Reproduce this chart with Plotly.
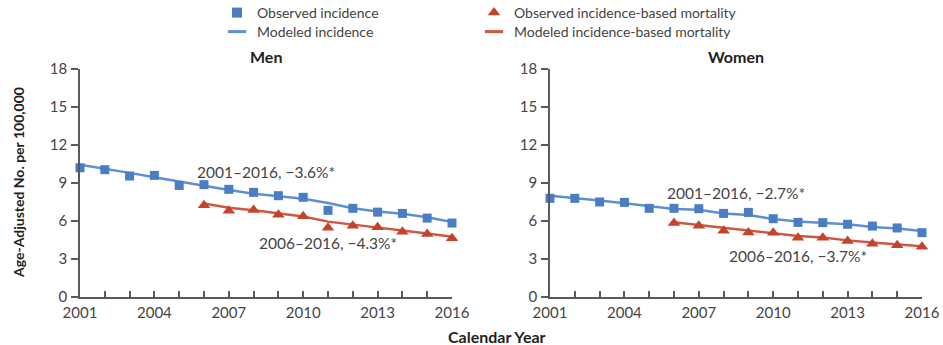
import plotly.graph_objects as go

years = list(range(2001, 2017))
mort_years = list(range(2006, 2017))

# Men
men_obs_inc = [10.2, 10.05, 9.55, 9.6, 8.8, 8.87, 8.5, 8.26, 8.0, 7.87, 6.84, 7.0, 6.7, 6.6, 6.23, 5.84]
men_mod_inc = [10.45, 10.15, 9.8, 9.45, 9.1, 8.78, 8.45, 8.15, 7.95, 7.75, 7.42, 7.0, 6.75, 6.58, 6.3, 5.92]
men_obs_mort = [7.25, 6.8, 6.87, 6.5, 6.37, 5.47, 5.63, 5.5, 5.16, 4.97, 4.63]
men_mod_mort = [7.38, 7.05, 6.85, 6.6, 6.35, 5.95, 5.72, 5.52, 5.27, 5.02, 4.75]

# Women
wom_obs_inc = [7.79, 7.79, 7.5, 7.47, 7.0, 7.0, 6.97, 6.6, 6.68, 6.18, 5.89, 5.87, 5.74, 5.6, 5.45, 5.08]
wom_mod_inc = [8.0, 7.82, 7.62, 7.4, 7.18, 6.95, 6.88, 6.6, 6.48, 6.15, 5.97, 5.87, 5.75, 5.52, 5.4, 5.2]
wom_obs_mort = [5.84, 5.63, 5.24, 5.1, 5.08, 4.68, 4.68, 4.42, 4.21, 4.08, 3.97]
wom_mod_mort = [5.9, 5.68, 5.45, 5.22, 5.05, 4.82, 4.7, 4.47, 4.3, 4.15, 4.0]

trend_labels = {
    "men": ["2001\u20132016, \u22123.6%*", "2006\u20132016, \u22124.3%*"],
    "women": ["2001\u20132016, \u22122.7%*", "2006\u20132016, \u22123.7%*"],
}

BLUE = "#4a7dc2"
BLUE_LINE = "#5d8fd3"
RED = "#c4442b"
RED_LINE = "#d05740"
TXT = "#444444"
AX = "#5a5a5a"
FONT = "Lato"

fig = go.Figure()

panels = [
    ("x", "y", men_obs_inc, men_mod_inc, men_obs_mort, men_mod_mort),
    ("x2", "y2", wom_obs_inc, wom_mod_inc, wom_obs_mort, wom_mod_mort),
]
for xa, ya, oi, mi, om, mm in panels:
    fig.add_trace(go.Scatter(x=years, y=mi, mode="lines", xaxis=xa, yaxis=ya,
                             line=dict(color=BLUE_LINE, width=2.5), showlegend=False, cliponaxis=False))
    fig.add_trace(go.Scatter(x=mort_years, y=mm, mode="lines", xaxis=xa, yaxis=ya,
                             line=dict(color=RED_LINE, width=2.5), showlegend=False, cliponaxis=False))
    fig.add_trace(go.Scatter(x=years, y=oi, mode="markers", xaxis=xa, yaxis=ya,
                             marker=dict(symbol="square", size=9, color=BLUE), showlegend=False, cliponaxis=False))
    fig.add_trace(go.Scatter(x=mort_years, y=om, mode="markers", xaxis=xa, yaxis=ya,
                             marker=dict(symbol="triangle-up", size=11, color=RED), showlegend=False, cliponaxis=False))

W, H = 943, 345

# Legend entries, one legend box per entry in a 2 x 2 arrangement
legend_entries = [
    ("Observed incidence", dict(symbol="square", size=10, color=BLUE), "legend", 217, 13),
    ("Modeled incidence", dict(symbol="line-ew", size=13, line=dict(color=BLUE_LINE, width=3)), "legend2", 217, 32),
    ("Observed incidence-based mortality", dict(symbol="triangle-up", size=11, color=RED), "legend3", 474, 13),
    ("Modeled incidence-based mortality", dict(symbol="line-ew", size=13, line=dict(color=RED_LINE, width=3)), "legend4", 474, 32),
]
legend_layout = {}
for name, mk, lg, lx, ly in legend_entries:
    fig.add_trace(go.Scatter(x=[None], y=[None], mode="markers", name=name, marker=mk, legend=lg))
    legend_layout[lg] = dict(x=lx / W, xanchor="left", y=1 - ly / H, yanchor="middle",
                             bgcolor="rgba(0,0,0,0)", font=dict(family=FONT, size=14, color=TXT),
                             itemwidth=30)

tickvals = years
ticktext = [str(y) if (y - 2001) % 3 == 0 else "" for y in years]

xcommon = dict(range=[2001, 2016], tickvals=tickvals, ticktext=ticktext, ticks="inside", ticklen=6,
               tickcolor=AX, tickwidth=1.5, showline=True, linecolor=AX, linewidth=1.5, showgrid=False,
               zeroline=False, tickfont=dict(family=FONT, size=15, color=TXT), fixedrange=True,
               automargin=False, ticklabelstandoff=1)
ycommon = dict(range=[0, 18], dtick=3, tick0=0, ticks="outside", ticklen=7, tickcolor=AX, tickwidth=1.5,
               showline=True, linecolor=AX, linewidth=1.5, showgrid=False, zeroline=False,
               tickfont=dict(family=FONT, size=15, color=TXT), fixedrange=True, automargin=False,
               ticklabelstandoff=1)

xd1 = [80 / W, 452 / W]
xd2 = [550 / W, 922 / W]
yd = [48 / H, 276 / H]

def label(text, x, y, xref="paper", yref="paper", size=14, color=TXT, **kw):
    return dict(text=text, x=x, y=y, xref=xref, yref=yref, xanchor="center", yanchor="middle",
                showarrow=False, font=dict(family=FONT, size=size, color=color), **kw)

annots = [
    label("<b>Men</b>", (xd1[0] + xd1[1]) / 2, 1 - 57 / H, size=16, color="#222"),
    label("<b>Women</b>", (xd2[0] + xd2[1]) / 2, 1 - 57 / H, size=16, color="#222"),
    label("<b>Calendar Year</b>", 497 / W, 1 - 336 / H, size=16, color="#222"),
    label("<b>Age-Adjusted No. per 100,000</b>", 18 / W, 1 - 183 / H, size=14, color="#222", textangle=-90),
    label(trend_labels["men"][0], 2008.5, 9.87, "x", "y", size=15.5),
    label(trend_labels["men"][1], 2011.0, 4.26, "x", "y", size=15.5),
    label(trend_labels["women"][0], 2008.5, 8.2, "x2", "y2", size=15.5),
    label(trend_labels["women"][1], 2011.0, 3.24, "x2", "y2", size=15.5),
]

fig.update_layout(
    width=W, height=H, margin=dict(l=0, r=0, t=0, b=0, autoexpand=False),
    paper_bgcolor="white", plot_bgcolor="white",
    xaxis=dict(domain=xd1, anchor="y", **xcommon),
    yaxis=dict(domain=yd, anchor="x", **ycommon),
    xaxis2=dict(domain=xd2, anchor="y2", **xcommon),
    yaxis2=dict(domain=yd, anchor="x2", **ycommon),
    annotations=annots,
    font=dict(family=FONT, color=TXT),
    **legend_layout,
)

fig.write_html("out.html")
